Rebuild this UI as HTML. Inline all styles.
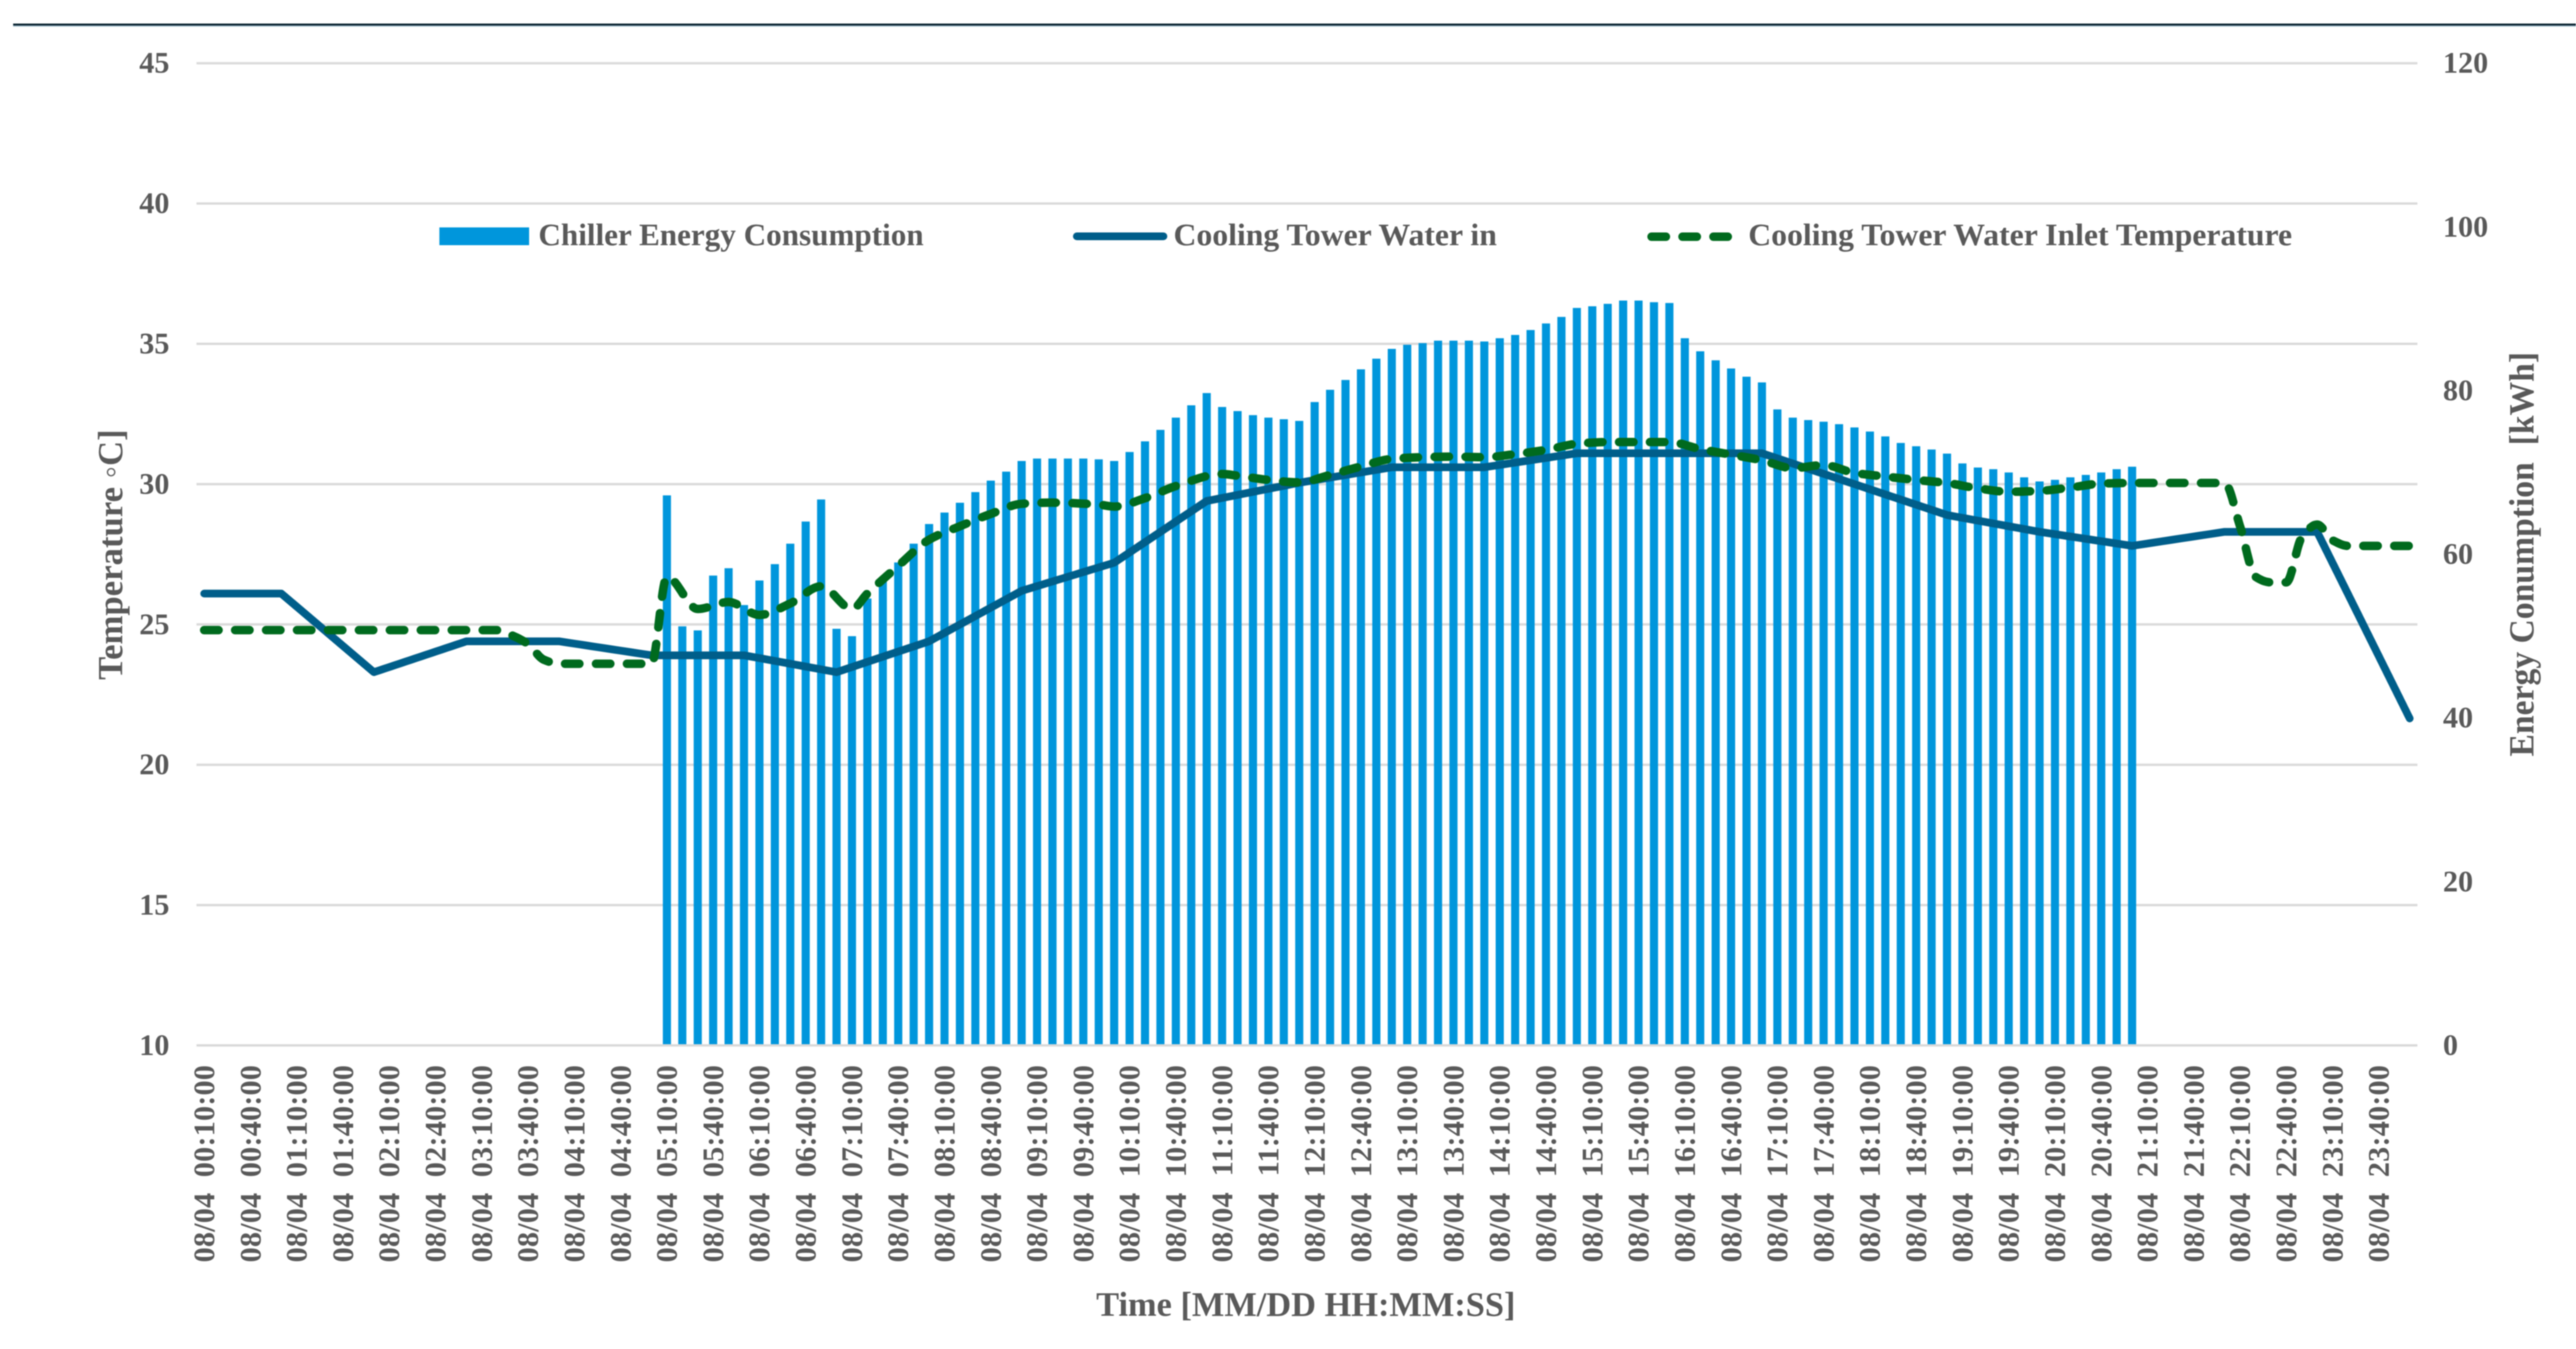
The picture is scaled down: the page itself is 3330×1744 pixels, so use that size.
<!DOCTYPE html>
<html lang="en">
<head>
<meta charset="utf-8">
<title>Chiller energy consumption and cooling tower temperature</title>
<style>
html,body{margin:0;padding:0;background:#fff;}
svg{display:block;font-family:"Liberation Serif",serif;font-weight:bold;filter:blur(0.7px);}
text{fill:#595959;}
</style>
</head>
<body>
<svg id="chart" xmlns="http://www.w3.org/2000/svg" width="3330" height="1744" viewBox="0 0 3330 1744">
  <rect x="0" y="0" width="3330" height="1744" fill="#ffffff"/>
  <rect x="17" y="30.5" width="3313" height="2.5" fill="#07202e"/>
  <rect x="17" y="33" width="3313" height="1.5" fill="#a9c3d1"/>
  <g id="grid"></g>
  <g id="bars"></g>
  <path id="waterIn" fill="none" stroke="#005e8a" stroke-width="10" stroke-linejoin="round" stroke-linecap="round"/>
  <path id="inletTemp" fill="none" stroke="#006a1e" stroke-width="11" stroke-linejoin="round" stroke-linecap="round" stroke-dasharray="18.5 21.5"/>
  <g id="leftTicks" font-size="39" text-anchor="end"></g>
  <g id="rightTicks" font-size="39" text-anchor="start"></g>
  <g id="xTicks" font-size="39" text-anchor="end"></g>

  <text x="1417" y="1701" font-size="44.5" textLength="542" lengthAdjust="spacingAndGlyphs">Time [MM/DD HH:MM:SS]</text>
  <text transform="translate(158,879) rotate(-90)" font-size="46" textLength="324" lengthAdjust="spacingAndGlyphs">Temperature ◦C]</text>
  <text transform="translate(3275,978) rotate(-90)" font-size="46" textLength="523" lengthAdjust="spacingAndGlyphs">Energy Conumption&#160;&#160;[kWh]</text>

  <g>
    <g>
      <rect x="568" y="294" width="116" height="23" fill="#0096dc"/>
      <text x="696" y="317" font-size="40" textLength="498" lengthAdjust="spacingAndGlyphs">Chiller Energy Consumption</text>
    </g>
    <g>
      <line x1="1392" y1="305.5" x2="1504" y2="305.5" stroke="#005e8a" stroke-width="10" stroke-linecap="round"/>
      <text x="1517" y="317" font-size="40" textLength="418" lengthAdjust="spacingAndGlyphs">Cooling Tower Water in</text>
    </g>
    <g>
      <line x1="2135" y1="306" x2="2235" y2="306" stroke="#006a1e" stroke-width="11" stroke-linecap="round" stroke-dasharray="18.5 21.5"/>
      <text x="2260" y="317" font-size="40" textLength="703" lengthAdjust="spacingAndGlyphs">Cooling Tower Water Inlet Temperature</text>
    </g>
  </g>
</svg>
<script>
const tempTicks = [10,15,20,25,30,35,40,45];
const energyTicks = [0,20,40,60,80,100,120];
const timeLabels = ["00:10:00","00:40:00","01:10:00","01:40:00","02:10:00","02:40:00","03:10:00","03:40:00","04:10:00","04:40:00","05:10:00","05:40:00","06:10:00","06:40:00","07:10:00","07:40:00","08:10:00","08:40:00","09:10:00","09:40:00","10:10:00","10:40:00","11:10:00","11:40:00","12:10:00","12:40:00","13:10:00","13:40:00","14:10:00","14:40:00","15:10:00","15:40:00","16:10:00","16:40:00","17:10:00","17:40:00","18:10:00","18:40:00","19:10:00","19:40:00","20:10:00","20:40:00","21:10:00","21:40:00","22:10:00","22:40:00","23:10:00","23:40:00"];
const datePrefix = "08/04";
const categoryCount = 144;
const energyFirstTime = "05:10";
const energyValues = [67.2,51.2,50.7,57.4,58.3,53.8,56.8,58.8,61.3,64,66.7,50.9,50,54.6,57.1,59,61.3,63.7,65.1,66.3,67.6,69,70.1,71.4,71.7,71.7,71.7,71.7,71.6,71.4,72.5,73.8,75.2,76.7,78.2,79.7,78,77.5,77,76.7,76.5,76.3,78.6,80.1,81.3,82.6,83.9,85.1,85.6,85.8,86.1,86.1,86.1,86,86.4,86.8,87.4,88.2,89,90.1,90.3,90.6,91,91,90.8,90.7,86.4,84.8,83.7,82.7,81.7,81,77.7,76.7,76.4,76.2,75.9,75.5,75,74.4,73.6,73.2,72.8,72.3,71.1,70.6,70.4,70,69.4,68.9,69.1,69.4,69.7,70,70.4,70.7];
const waterInTimes = ["00:10","01:00","02:00","03:00","04:00","05:00","06:00","07:00","08:00","09:00","10:00","11:00","12:00","13:00","14:00","15:00","16:00","17:00","18:00","19:00","20:00","21:00","22:00","23:00","24:00"];
const waterInValues = [26.1,26.1,23.3,24.4,24.4,23.9,23.9,23.3,24.4,26.2,27.2,29.4,30.05,30.6,30.6,31.1,31.1,31.1,30,28.9,28.3,27.8,28.3,28.3,21.65];
const inletTimes = ["00:10","03:10","03:20","03:30","03:40","03:50","04:00","05:00","05:10","05:30","05:50","06:10","06:30","06:50","07:10","07:20","07:40","08:00","08:20","08:40","09:00","09:20","09:50","10:00","10:20","10:40","11:10","11:20","11:40","12:00","12:20","12:40","13:00","13:20","13:40","14:00","14:20","14:40","15:00","15:20","15:40","16:00","16:20","16:40","17:00","17:20","17:40","18:00","18:20","18:40","19:00","19:20","19:40","20:00","20:20","20:40","21:00","22:00","22:10","22:20","22:30","22:40","22:50","23:00","23:10","23:20","24:00"];
const inletValues = [24.8,24.8,24.8,24.6,24.3,23.75,23.6,23.6,26.7,25.55,25.8,25.34,25.75,26.36,25.55,26.1,27.09,28.02,28.5,28.94,29.3,29.34,29.27,29.2,29.5,29.93,30.36,30.3,30.15,30.06,30.33,30.63,30.9,30.96,30.98,30.96,31.07,31.22,31.44,31.5,31.5,31.5,31.25,31.05,30.85,30.57,30.68,30.4,30.27,30.15,30.04,29.85,29.73,29.76,29.88,30.02,30.04,30.04,28.5,26.7,26.5,26.5,28.1,28.56,28,27.8,27.8];

const NS = "http://www.w3.org/2000/svg";
const plotLeft = 254, plotRight = 3125, plotTop = 81.7, plotBottom = 1351.5;
const step = (plotRight - plotLeft) / categoryCount;
const xCat = i => plotLeft + (i + 0.5) * step;
const timeIndex = t => { const p = t.split(":"); return (Number(p[0]) * 60 + Number(p[1])) / 10 - 1; };
const yTemp = v => plotBottom - (v - 10) / 35 * (plotBottom - plotTop);
const yEnergy = v => plotBottom - v / 120 * (plotBottom - plotTop);
const make = tag => document.createElementNS(NS, tag);

const gridGroup = document.getElementById("grid");
const leftGroup = document.getElementById("leftTicks");
tempTicks.forEach(t => {
  const ln = make("line");
  
  
  ln.setAttribute("x1", plotLeft); ln.setAttribute("x2", plotRight);
  ln.setAttribute("y1", yTemp(t)); ln.setAttribute("y2", yTemp(t));
  ln.setAttribute("stroke", "#d9d9d9"); ln.setAttribute("stroke-width", "3");
  gridGroup.appendChild(ln);
  const tx = make("text");
  
  
  tx.setAttribute("x", 219); tx.setAttribute("y", yTemp(t) + 12.5);
  tx.textContent = t;
  leftGroup.appendChild(tx);
});

const rightGroup = document.getElementById("rightTicks");
energyTicks.forEach(t => {
  const tx = make("text");
  
  
  tx.setAttribute("x", 3158); tx.setAttribute("y", yEnergy(t) + 12.5);
  tx.textContent = t;
  rightGroup.appendChild(tx);
});

const xGroup = document.getElementById("xTicks");
timeLabels.forEach((t, k) => {
  const tx = make("text");
  
  
  tx.setAttribute("transform", "translate(" + (xCat(k * 3) + 13) + ",1377) rotate(-90)");
  tx.setAttribute("textLength", "255");
  tx.setAttribute("lengthAdjust", "spacing");
  tx.textContent = datePrefix + "\u00A0\u00A0" + t;
  xGroup.appendChild(tx);
});

const barGroup = document.getElementById("bars");
const firstBar = timeIndex(energyFirstTime);
const barWidth = 10.5;
energyValues.forEach((v, k) => {
  const r = make("rect");
  
  
  r.setAttribute("x", xCat(firstBar + k) - barWidth / 2);
  r.setAttribute("width", barWidth);
  r.setAttribute("y", yEnergy(v));
  r.setAttribute("height", plotBottom - 1.5 - yEnergy(v));
  r.setAttribute("fill", "#0096dc");
  barGroup.appendChild(r);
});

const waterPts = waterInTimes.map((t, k) => [xCat(timeIndex(t)), yTemp(waterInValues[k])]);
document.getElementById("waterIn").setAttribute("d", "M" + waterPts.map(p => p[0].toFixed(1) + " " + p[1].toFixed(1)).join("L"));

const inletPts = inletTimes.map((t, k) => [xCat(timeIndex(t)), yTemp(inletValues[k])]);
const secant = k => (inletPts[k + 1][1] - inletPts[k][1]) / (inletPts[k + 1][0] - inletPts[k][0]);
const slope = k => {
  if (k === 0 || k === inletPts.length - 1) return 0;
  const a = secant(k - 1), b = secant(k);
  return a * b <= 0 ? 0 : 2 * a * b / (a + b);
};
let smooth = "M" + inletPts[0][0].toFixed(1) + " " + inletPts[0][1].toFixed(1);
for (let k = 0; k < inletPts.length - 1; k++) {
  const p = inletPts[k], q = inletPts[k + 1], dx = (q[0] - p[0]) / 3;
  smooth += "C" + (p[0] + dx).toFixed(1) + " " + (p[1] + slope(k) * dx).toFixed(1) + " " +
    (q[0] - dx).toFixed(1) + " " + (q[1] - slope(k + 1) * dx).toFixed(1) + " " +
    q[0].toFixed(1) + " " + q[1].toFixed(1);
}
document.getElementById("inletTemp").setAttribute("d", smooth);
</script>
</body>
</html>
